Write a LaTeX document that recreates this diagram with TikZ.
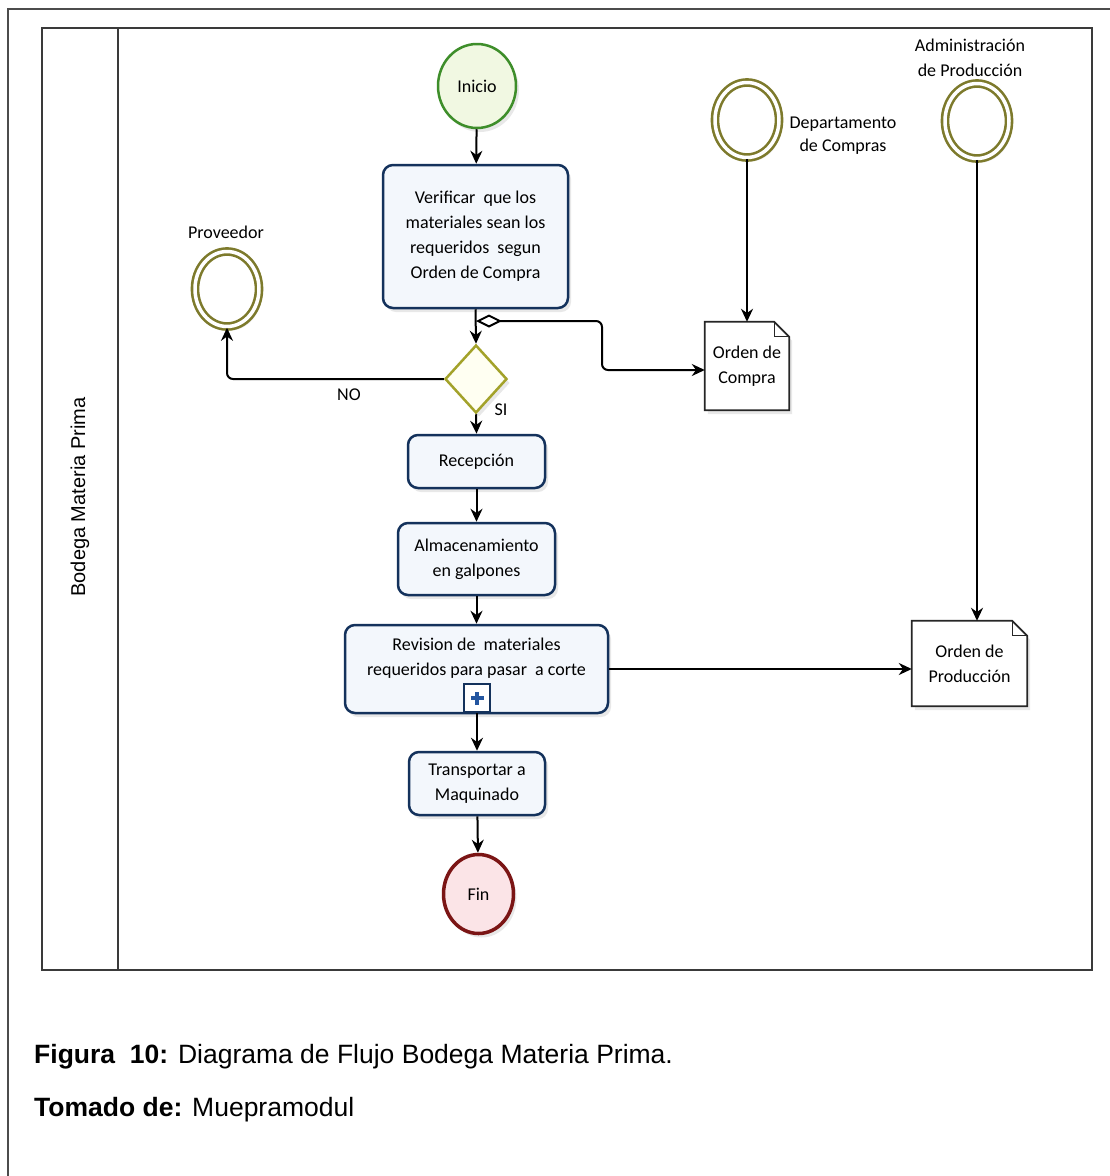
\documentclass[tikz,border=0pt]{standalone}
\usepackage{fontspec}
\setmainfont{Liberation Sans}
\newfontfamily\diafont{Carlito}
\usetikzlibrary{shapes.geometric,arrows.meta,calc,shadows,backgrounds}
\definecolor{navy}{HTML}{14325C}
\definecolor{taskfill}{HTML}{F3F7FC}
\definecolor{startgreen}{HTML}{3E8E2A}
\definecolor{startfill}{HTML}{F1F8E2}
\definecolor{endred}{HTML}{7B1515}
\definecolor{endfill}{HTML}{FBE4E7}
\definecolor{ring}{HTML}{7D7A2C}
\definecolor{gwline}{HTML}{A3A22A}
\definecolor{gwfill}{HTML}{FFFFF2}
\definecolor{plusblue}{HTML}{2456A0}
\definecolor{poolline}{HTML}{3A3A3A}
\tikzset{
  dfont/.style={font=\diafont\fontsize{18}{25}\selectfont},
  softshadow/.style={drop shadow={shadow xshift=3pt,shadow yshift=-4pt,opacity=0.18,fill=gray}},
  task/.style={rectangle, rounded corners=10pt, draw=navy, line width=2.5pt, fill=taskfill,
    align=center, dfont, inner sep=0pt, softshadow},
  evstart/.style={ellipse, draw=startgreen, line width=2.5pt, fill=startfill, inner sep=0pt,
    minimum width=78pt, minimum height=84pt, dfont, softshadow},
  evend/.style={ellipse, draw=endred, line width=3.5pt, fill=endfill, inner sep=0pt,
    minimum width=70pt, minimum height=79pt, dfont, softshadow},
  evinter/.style={ellipse, draw=ring, line width=2.6pt, double=white, double distance=3.5pt,
    fill=white, inner sep=0pt, minimum width=64pt, minimum height=75pt, softshadow},
  gateway/.style={diamond, draw=gwline, line width=2.5pt, fill=gwfill, inner sep=0pt,
    minimum width=62pt, minimum height=68pt, softshadow},
  docnode/.style={rectangle, inner sep=0pt, align=center, dfont},
  docline/.style={draw=black!85, line width=1.8pt},
  lbl/.style={dfont, align=center, inner sep=0pt},
  flow/.style={draw=black, line width=2pt, -{Stealth[length=13pt,width=12pt]}},
  plusbox/.style={rectangle, draw=navy, line width=2pt, fill=white, inner sep=0pt,
    minimum width=26pt, minimum height=28pt}
}
\newcommand\docoutline[1]{%
  \begin{scope}[on background layer]
    \path[docline, fill=white, softshadow] (#1.north west) -- ($(#1.north east)+(-15,0)$)
      -- ($(#1.north east)+(0,15)$) -- (#1.south east) -- (#1.south west) -- cycle;
    \draw[docline, line width=1.3pt] ($(#1.north east)+(-15,0)$) -- ($(#1.north east)+(-15,15)$)
      -- ($(#1.north east)+(0,15)$);
  \end{scope}}
\begin{document}
\begin{tikzpicture}[x=1pt,y=-1pt]
\useasboundingbox (0,0) rectangle (1110,1176);
\begin{scope}[on background layer]
\fill[white] (0,0) rectangle (1110,1176);
\end{scope}
% outer frame
\draw[gray!60!black, line width=1.5pt] (8,1176) -- (8,9) -- (1110,9);
% pool
\draw[poolline, line width=2.5pt] (42,28) rectangle (1092,970);
\draw[poolline, line width=2.5pt] (118,28) -- (118,970);
\node[rotate=90, font=\fontsize{20}{22}\selectfont] (lane) at (80,497) {Bodega Materia Prima};

% nodes
\node[evstart] (inicio) at (477,86) {Inicio};
\node[task, minimum width=185pt, minimum height=143pt] (verif) at (475.5,236.5)
  {Verificar \ que los\\materiales sean los\\requeridos \ segun\\Orden de Compra};
\node[gateway] (gw) at (476,379) {};
\node[evinter] (prov) at (227,289) {};
\node[lbl] (provl) at (226,232) {Proveedor};
\node[evinter] (dept) at (747,120) {};
\node[lbl, font=\diafont\fontsize{18}{23}\selectfont] (deptl) at (843,136) {Departamento\\de Compras};
\node[evinter] (admin) at (977,121) {};
\node[lbl, font=\diafont\fontsize{18}{25}\selectfont] (adminl) at (970,58) {Administración\\de Producción};
\node[docnode, minimum width=84pt, minimum height=88pt] (oc) at (747,366) {Orden de\\Compra};
\docoutline{oc}
\node[docnode, minimum width=115pt, minimum height=85pt] (op) at (969.5,663.5) {Orden de\\Producción};
\docoutline{op}
\node[task, minimum width=137pt, minimum height=53pt] (recep) at (476.5,461.5) {Recepción};
\node[task, minimum width=157pt, minimum height=72pt] (alm) at (476.5,559) {Almacenamiento\\en galpones};
\node[task, minimum width=263pt, minimum height=88pt] (rev) at (476.5,669)
  {Revision de \ materiales\\requeridos para pasar \ a corte\\\mbox{}};
\node[plusbox] (plus) at (477,698) {};
\fill[plusblue] ($(plus)+(-6.5,-2.2)$) rectangle ($(plus)+(6.5,2.2)$);
\fill[plusblue] ($(plus)+(-2.2,-6.5)$) rectangle ($(plus)+(2.2,6.5)$);
\node[task, minimum width=136pt, minimum height=63pt] (trans) at (477,783.5) {Transportar a\\Maquinado};
\node[evend] (fin) at (478.5,894) {Fin};

% connectors
\draw[flow] (inicio) -- (verif);
\draw[flow] (verif.south) -- (gw.north);
\coordinate (cf) at (476,321);
\draw[draw=black, line width=2pt, rounded corners=6pt,
  {Diamond[open,length=26pt,width=13pt]}-{Stealth[length=13pt,width=12pt]}]
  (cf) -- (602,321) |- ($(oc.west)+(0,4)$);
\draw[flow, rounded corners=6pt] (gw.west) -| (prov.south);
\node[lbl] (no) at (349,395) {NO};
\draw[flow] (gw.south) -- (recep.north);
\node[lbl] (si) at (501,410) {SI};
\draw[flow] (recep) -- (alm);
\draw[flow] (alm) -- (rev);
\draw[flow] (plus.south) -- (trans.north);
\draw[flow] (trans) -- (fin);
\draw[flow] (rev.east) -- (rev.east -| op.west);
\draw[flow] (dept.south) -- (oc.north);
\draw[flow] (admin.south) -- (admin.south |- op.north);

% caption
\node[anchor=west, font=\fontsize{26.5}{30}\selectfont, inner sep=0pt] (cap1) at (34,1057)
  {\textbf{Figura\ \ 10:} Diagrama de Flujo Bodega Materia Prima.};
\node[anchor=west, font=\fontsize{26.5}{30}\selectfont, inner sep=0pt] (cap2) at (34,1110)
  {\textbf{Tomado de:} Muepramodul};
\end{tikzpicture}
\end{document}
